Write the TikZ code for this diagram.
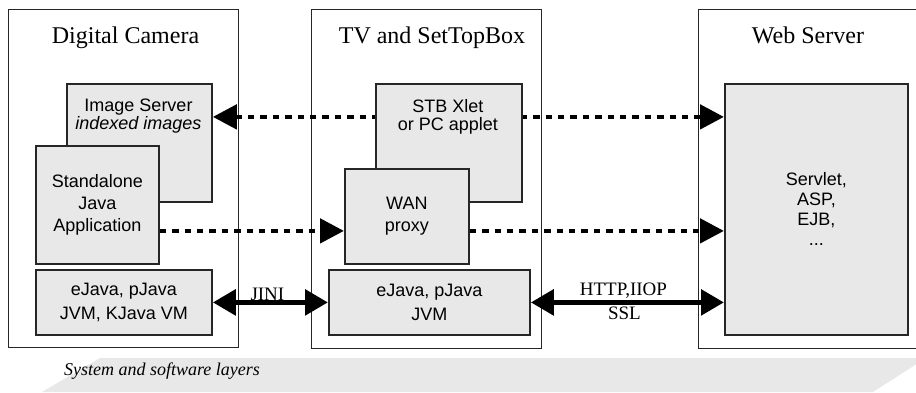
\documentclass[tikz,border=0pt]{standalone}
\usepackage{fontspec}
\setmainfont{Liberation Serif}
\setsansfont{Liberation Sans}
\usetikzlibrary{arrows.meta}
\definecolor{boxgray}{HTML}{E8E8E8}
\tikzset{
  device/.style={draw=black!85, line width=0.5pt, anchor=north west, inner sep=0pt},
  layer/.style={draw=black!85, line width=0.9pt, fill=boxgray, anchor=north west, inner sep=0pt,
    font=\sffamily\fontsize{9}{10.8}\selectfont, align=center},
  boxtext/.style={font=\sffamily\fontsize{9}{10.8}\selectfont, align=center, anchor=north, inner sep=0pt},
  devtitle/.style={font=\fontsize{12}{14}\selectfont, anchor=base},
  dotlink/.style={line width=2.4pt, dash pattern=on 3.2pt off 3pt, >={Triangle[length=12pt,width=12pt]}},
  solidlink/.style={line width=2.8pt, >={Triangle[length=11.5pt,width=12.5pt]}, <->},
  proto/.style={font=\fontsize{9.5}{11}\selectfont, inner sep=0pt}
}
\begin{document}
\begin{tikzpicture}[x=0.5pt,y=-0.5pt]
\useasboundingbox (0,0) rectangle (916,392);
\fill[boxgray] (100,358) -- (926,358) -- (873,392) -- (42,392) -- cycle;
\node[anchor=base west, font=\itshape\fontsize{9}{11}\selectfont] (layers) at (57,375) {System and software layers};

\node[device, minimum width=115pt, minimum height=169pt] (camera) at (8,9) {};
\node[device, minimum width=115pt, minimum height=169.5pt] (tv) at (311,9) {};
\node[device, minimum width=130pt, minimum height=169.5pt] (web) at (698,9) {};
\node[devtitle] (cameratitle) at (125.5,43) {Digital Camera};
\node[devtitle] (tvtitle) at (432,43) {TV and SetTopBox};
\node[devtitle] (webtitle) at (808,43) {Web Server};

\node[layer, minimum width=72.5pt, minimum height=59pt] (imgsrv) at (66,83) {};
\node[boxtext] (imgsrvtext) at (138.5,99) {Image Server\\[-2pt]\textit{indexed images}};
\node[layer, minimum width=61.5pt, minimum height=59pt] (standalone) at (35,145) {Standalone\\Java\\Application};
\node[layer, minimum width=91.5pt, minimum height=125.5pt] (servlet) at (724,83) {Servlet,\\[-0.8pt]ASP,\\[-0.8pt]EJB,\\[-0.8pt]...};

\coordinate (toprow) at ([yshift=13pt]imgsrv.east);
\draw[dotlink, <->] (toprow) -- (toprow -| servlet.west);

\node[layer, minimum width=73pt, minimum height=59pt] (stb) at (375,83) {};
\node[boxtext] (stbtext) at (448,99) {STB Xlet\\[-2pt]or PC applet};
\node[layer, minimum width=62pt, minimum height=47.5pt] (wan) at (344,168) {WAN\\proxy};

\coordinate (midrow) at ([yshift=-13pt]standalone.east);
\draw[dotlink, ->] (midrow) -- (midrow -| wan.west);
\draw[dotlink, ->] (midrow -| wan.east) -- (midrow -| servlet.west);

\node[layer, minimum width=88pt, minimum height=32.5pt] (vmcam) at (35,269) {eJava, pJava\\[1.5pt]JVM, KJava VM};
\node[layer, minimum width=100.5pt, minimum height=32.5pt] (vmtv) at (328,269) {eJava, pJava\\[1.5pt]JVM};

\draw[solidlink] (vmcam.east) -- (vmtv.west)
  node[proto, midway, anchor=base, xshift=-1.5pt, yshift=1pt] (jini) {JINI};
\draw[solidlink] (vmtv.east) -- (vmtv.east -| servlet.west)
  node[proto, midway, anchor=base, xshift=-2pt, yshift=3.5pt] (http) {HTTP,IIOP}
  node[proto, midway, anchor=north, xshift=-1.5pt, yshift=-1pt] (ssl) {SSL};
\end{tikzpicture}
\end{document}
